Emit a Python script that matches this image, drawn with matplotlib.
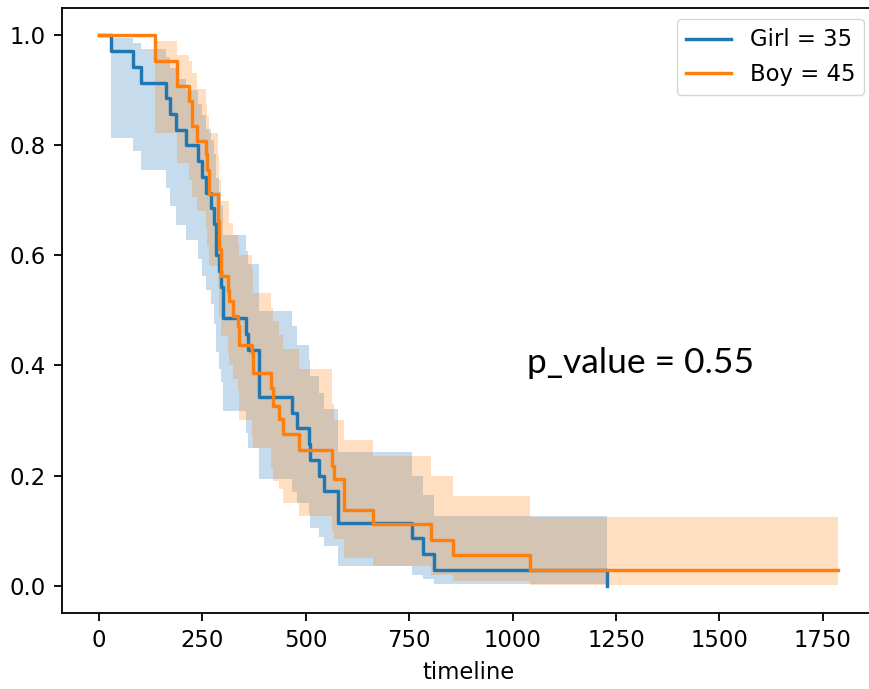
import matplotlib
matplotlib.use("Agg")
import matplotlib.pyplot as plt

# ---------- data ----------
times_girl = [0, 30, 83, 102, 163, 171, 187, 210, 240, 248, 258, 270, 278, 284, 290, 294,
              300, 355, 361, 387, 466, 480, 507, 510, 532, 545, 577, 757, 783, 811, 1229]
surv_girl = [1.0, .971, .943, .914, .886, .857, .829, .800, .771, .743, .714, .686, .657, .600,
             .571, .543, .486, .457, .429, .343, .314, .286, .257, .229, .200, .171, .114, .086,
             .057, .029, 0.0]
lower_girl = [1.0, .814, .790, .756, .722, .690, .655, .628, .593, .562, .538, .511, .475, .424,
              .393, .370, .317, .278, .250, .193, .170, .150, .130, .105, .088, .071, .035, .020,
              .011, .002, 0.0]
upper_girl = [1.0, .996, .987, .975, .960, .940, .920, .900, .875, .855, .830, .810, .785, .740,
              .715, .690, .638, .608, .584, .499, .471, .438, .410, .380, .350, .320, .242, .200,
              .165, .126, 0.0]

times_boy = [0, 135, 188, 218, 226, 238, 258, 262, 266, 287, 290, 294, 311, 315, 323, 335, 339,
             370, 373, 416, 421, 436, 444, 484, 563, 569, 593, 662, 803, 855, 1041, 1786]
surv_boy = [1.0, .953, .908, .881, .835, .808, .784, .756, .711, .662, .611, .562, .538, .517,
            .490, .471, .438, .423, .387, .359, .326, .302, .275, .247, .217, .193, .138, .111,
            .082, .056, .028, .028]
lower_boy = [1.0, .823, .769, .738, .707, .680, .651, .617, .580, .538, .490, .453, .420, .400,
             .375, .355, .300, .270, .250, .215, .190, .175, .150, .126, .100, .085, .050, .035,
             .020, .008, .001, .001]
upper_boy = [1.0, .990, .965, .953, .932, .902, .878, .853, .823, .780, .738, .699, .699, .659,
             .638, .620, .600, .575, .532, .505, .480, .455, .430, .393, .330, .300, .265, .235,
             .199, .162, .125, .125]

labels = ['Girl = 35', 'Boy = 45']
p_text = 'p_value = 0.55'

# ---------- style (reference is a ~1.64x upscale of a default figure) ----------
k = 1.64
plt.rcParams.update({
    'font.family': ['DejaVu Sans'],
    'font.size': 10 * k,
    'axes.linewidth': 0.8 * k,
    'xtick.major.size': 3.5 * k, 'ytick.major.size': 3.5 * k,
    'xtick.major.width': 0.8 * k, 'ytick.major.width': 0.8 * k,
    'xtick.major.pad': 3.5 * k, 'ytick.major.pad': 3.5 * k,
})

fig = plt.figure(figsize=(8.69, 6.89), dpi=100)
ax = fig.add_axes([0.0713, 0.1103, 0.9362, 0.8781])

groups = [
    (times_girl, surv_girl, lower_girl, upper_girl, '#1f77b4'),
    (times_boy, surv_boy, lower_boy, upper_boy, '#ff7f0e'),
]
for (t, s, lo, hi, c), lab in zip(groups, labels):
    ax.plot(t, s, drawstyle='steps-post', color=c, lw=1.5 * k, label=lab)
    ax.fill_between(t, lo, hi, step='post', color=c, alpha=0.25, linewidth=0)

ax.set_xlim(-89.4, 1877.4)
ax.set_ylim(-0.05, 1.05)
ax.set_xticks([0, 250, 500, 750, 1000, 1250, 1500, 1750])
ax.set_yticks([0.0, 0.2, 0.4, 0.6, 0.8, 1.0])
ax.set_xlabel('timeline', labelpad=4 * k)
ax.legend(loc='upper right')

ax.text(1036, 0.387, p_text, fontsize=25.5, family=['Lato', 'DejaVu Sans'],
        ha='left', va='baseline')

fig.savefig('out.png', dpi=100)
